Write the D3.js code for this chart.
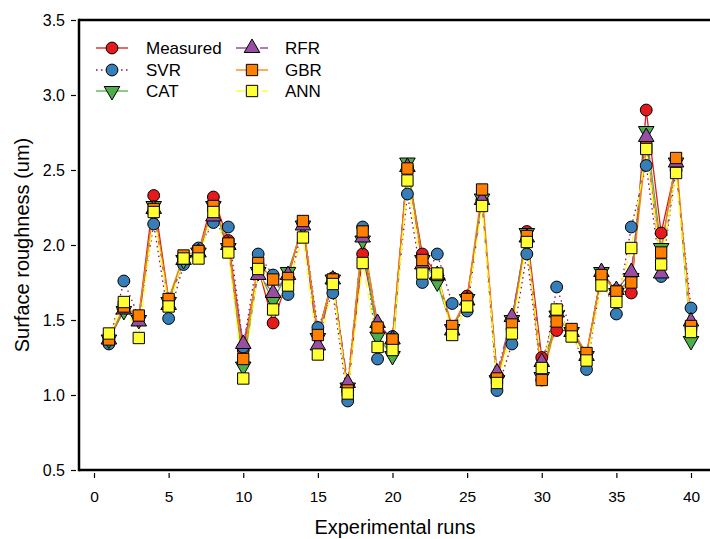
<!DOCTYPE html>
<html><head><meta charset="utf-8">
<script src="https://cdn.jsdelivr.net/npm/d3@7"></script>
<style>
body{margin:0;background:#fff}
svg{display:block}
text{font-family:"Liberation Sans",Arial,Helvetica,sans-serif;fill:#000}
</style>
</head><body><svg id="c" width="710" height="539"></svg>
<script>
const runs = d3.range(1, 41);
const xTicks = [0, 5, 10, 15, 20, 25, 30, 35, 40];
const yTicks = [0.5, 1.0, 1.5, 2.0, 2.5, 3.0, 3.5];

const measured = [1.37,1.57,1.52,2.33,1.64,1.90,1.95,2.32,2.03,1.30,1.85,1.48,1.78,2.15,1.40,1.78,1.03,1.94,1.45,1.38,2.52,1.94,1.80,1.44,1.66,2.30,1.12,1.50,2.09,1.25,1.43,1.43,1.27,1.80,1.70,1.68,2.90,2.08,2.53,1.45];
const svr = [1.34,1.76,1.52,2.14,1.51,1.87,1.98,2.15,2.12,1.32,1.94,1.80,1.67,2.15,1.45,1.68,0.96,2.12,1.24,1.39,2.34,1.75,1.94,1.61,1.56,2.30,1.03,1.34,1.94,1.10,1.72,1.42,1.17,1.78,1.54,2.12,2.53,1.79,2.50,1.58];
const cat = [1.37,1.56,1.50,2.26,1.62,1.90,1.95,2.26,1.98,1.19,1.82,1.63,1.82,2.13,1.38,1.77,1.05,2.03,1.39,1.26,2.55,1.90,1.75,1.44,1.64,2.31,1.10,1.50,2.08,1.12,1.53,1.42,1.26,1.82,1.68,1.78,2.76,1.98,2.55,1.36];
const rfr = [1.37,1.57,1.49,2.24,1.60,1.90,1.95,2.19,2.00,1.34,1.80,1.68,1.80,2.13,1.33,1.77,1.08,2.05,1.48,1.37,2.52,1.87,1.80,1.43,1.63,2.30,1.15,1.52,2.05,1.22,1.55,1.42,1.26,1.82,1.70,1.82,2.72,1.81,2.55,1.49];
const gbr = [1.37,1.59,1.53,2.24,1.64,1.93,1.96,2.26,2.01,1.24,1.88,1.77,1.78,2.16,1.40,1.77,1.03,2.09,1.45,1.37,2.51,1.90,1.80,1.46,1.64,2.37,1.11,1.47,2.06,1.10,1.49,1.44,1.28,1.80,1.69,1.75,2.65,1.95,2.58,1.46];
const ann = [1.41,1.62,1.38,2.22,1.59,1.91,1.91,2.22,1.95,1.11,1.84,1.57,1.73,2.05,1.27,1.74,1.01,1.88,1.32,1.30,2.43,1.81,1.81,1.40,1.59,2.26,1.08,1.41,2.02,1.18,1.57,1.39,1.23,1.73,1.62,1.98,2.64,1.87,2.48,1.42];

const seriesNames = ["Measured","SVR","CAT","RFR","GBR","ANN"];
const seriesValues = [measured, svr, cat, rfr, gbr, ann];
const styles = {
  Measured:{line:"#e41a1c", fill:"#e41a1c", dash:null, sym:d3.symbolCircle, size:110, rot:0},
  SVR:{line:"#8b1040", fill:"#377eb8", dash:"1.5,3.5", sym:d3.symbolCircle, size:110, rot:0},
  CAT:{line:"#4daf4a", fill:"#4daf4a", dash:null, sym:d3.symbolTriangle, size:105, rot:180},
  RFR:{line:"#984ea3", fill:"#984ea3", dash:"12,3,1.5,3,1.5,3", sym:d3.symbolTriangle, size:105, rot:0},
  GBR:{line:"#ff7f00", fill:"#ff7f00", dash:null, sym:d3.symbolSquare, size:128, rot:0},
  ANN:{line:"#ffff33", fill:"#ffff33", dash:"9,4", sym:d3.symbolSquare, size:128, rot:0}
};

const svg = d3.select("#c");
const x = d3.scaleLinear().domain([0, 40]).range([94, 691]);
const y = d3.scaleLinear().domain([0.5, 3.5]).range([470, 20]);
const axL = 79;

// frame lines
svg.append("line").attr("x1", axL).attr("x2", 710).attr("y1", 20).attr("y2", 20).attr("stroke","#000").attr("stroke-width",2.5);
svg.append("line").attr("x1", axL).attr("x2", 710).attr("y1", 470).attr("y2", 470).attr("stroke","#000").attr("stroke-width",2.5);
svg.append("line").attr("x1", axL).attr("x2", axL).attr("y1", 18.75).attr("y2", 471.25).attr("stroke","#000").attr("stroke-width",2.5);

// x axis ticks
const gx = svg.append("g").attr("transform","translate(0,473)")
  .call(d3.axisBottom(x).tickValues(xTicks).tickSize(5).tickSizeOuter(0).tickPadding(13).tickFormat(d3.format("d")));
gx.select(".domain").remove();
gx.selectAll("line").attr("stroke","#000").attr("stroke-width",1.2);
gx.selectAll("text").attr("font-size","15.5px").attr("font-family","'Liberation Sans',Arial,sans-serif");

// y axis ticks
const gy = svg.append("g").attr("transform","translate(" + (axL-3) + ",0)")
  .call(d3.axisLeft(y).tickValues(yTicks).tickSize(5).tickSizeOuter(0).tickPadding(6).tickFormat(d3.format(".1f")));
gy.select(".domain").remove();
gy.selectAll("line").attr("stroke","#000").attr("stroke-width",1.2);
gy.selectAll("text").attr("font-size","16px").attr("font-family","'Liberation Sans',Arial,sans-serif");

// axis titles
svg.append("text").attr("x", 395).attr("y", 534).attr("text-anchor","middle").attr("font-size","20px").text("Experimental runs");
svg.append("text").attr("transform","translate(29,245) rotate(-90)").attr("text-anchor","middle").attr("font-size","20px").text("Surface roughness (um)");

// lines
const lineGen = d3.line().x((d,i) => x(runs[i])).y(d => y(d));
seriesNames.forEach((n, k) => {
  const s = styles[n];
  svg.append("path").datum(seriesValues[k]).attr("d", lineGen)
    .attr("fill","none").attr("stroke", s.line).attr("stroke-width", 1.3)
    .attr("stroke-dasharray", s.dash);
});
// markers
seriesNames.forEach((n, k) => {
  const s = styles[n];
  const sym = d3.symbol().type(s.sym).size(s.size);
  svg.append("g").selectAll("path").data(seriesValues[k]).join("path")
    .attr("d", sym)
    .attr("transform", (d,i) => "translate(" + x(runs[i]) + "," + y(d) + ") rotate(" + s.rot + ")")
    .attr("fill", s.fill).attr("stroke","#000").attr("stroke-width",1);
});

// legend
const leg = svg.append("g");
const legPos = [[112,48],[112,70],[112,91],[252,48],[252,70],[252,91]];
seriesNames.forEach((n, k) => {
  const s = styles[n];
  const [cx, cy] = legPos[k];
  leg.append("line").attr("x1", cx-16).attr("x2", cx+16).attr("y1", cy).attr("y2", cy)
    .attr("stroke", s.line).attr("stroke-width", 1.3).attr("stroke-dasharray", s.dash);
  leg.append("path").attr("d", d3.symbol().type(s.sym).size(s.size)())
    .attr("transform","translate(" + cx + "," + cy + ") rotate(" + s.rot + ")")
    .attr("fill", s.fill).attr("stroke","#000").attr("stroke-width",1);
  leg.append("text").attr("x", k < 3 ? 146 : 285).attr("y", cy + 6).attr("font-size","17px").text(n);
});
</script>
</body></html>
